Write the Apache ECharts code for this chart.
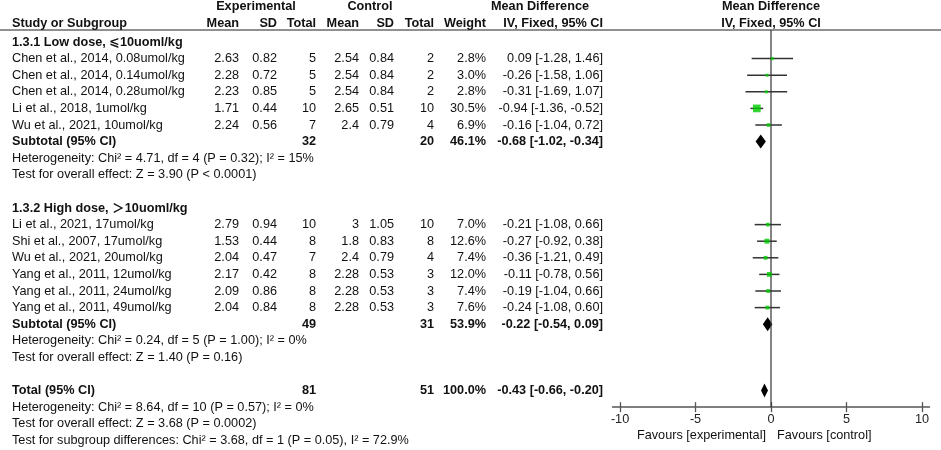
<!DOCTYPE html>
<html>
<head>
<meta charset="utf-8">
<script src="https://cdn.jsdelivr.net/npm/echarts@6/dist/echarts.min.js"></script>
<style>
  html, body { margin: 0; padding: 0; background: #fff; }
  #chart { width: 941px; height: 450px; }
</style>
</head>
<body>
<div id="chart"></div>
<script>
// study rows
var studies = [
    'Chen et al., 2014, 0.08umol/kg',
    'Chen et al., 2014, 0.14umol/kg',
    'Chen et al., 2014, 0.28umol/kg',
    'Li et al., 2018, 1umol/kg',
    'Wu et al., 2021, 10umol/kg',
    'Li et al., 2021, 17umol/kg',
    'Shi et al., 2007, 17umol/kg',
    'Wu et al., 2021, 20umol/kg',
    'Yang et al., 2011, 12umol/kg',
    'Yang et al., 2011, 24umol/kg',
    'Yang et al., 2011, 49umol/kg'
];
var studyLine = [3, 4, 5, 6, 7, 13, 14, 15, 16, 17, 18];
var expMean = [2.63, 2.28, 2.23, 1.71, 2.24, 2.79, 1.53, 2.04, 2.17, 2.09, 2.04];
var expSD = [0.82, 0.72, 0.85, 0.44, 0.56, 0.94, 0.44, 0.47, 0.42, 0.86, 0.84];
var expN = [5, 5, 5, 10, 7, 10, 8, 7, 8, 8, 8];
var ctlMean = [2.54, 2.54, 2.54, 2.65, 2.4, 3, 1.8, 2.4, 2.28, 2.28, 2.28];
var ctlSD = [0.84, 0.84, 0.84, 0.51, 0.79, 1.05, 0.83, 0.79, 0.53, 0.53, 0.53];
var ctlN = [2, 2, 2, 10, 4, 10, 8, 4, 3, 3, 3];
var weight = [2.8, 3.0, 2.8, 30.5, 6.9, 7.0, 12.6, 7.4, 12.0, 7.4, 7.6];
var md = [0.09, -0.26, -0.31, -0.94, -0.16, -0.21, -0.27, -0.36, -0.11, -0.19, -0.24];
var ciLo = [-1.28, -1.58, -1.69, -1.36, -1.04, -1.08, -0.92, -1.21, -0.78, -1.04, -1.08];
var ciHi = [1.46, 1.06, 1.07, -0.52, 0.72, 0.66, 0.38, 0.49, 0.56, 0.66, 0.60];

// pooled rows: subtotal 1, subtotal 2, total
var poolLabel = ['Subtotal (95% CI)', 'Subtotal (95% CI)', 'Total (95% CI)'];
var poolLine = [8, 19, 23];
var poolExpN = [32, 49, 81];
var poolCtlN = [20, 31, 51];
var poolWeight = [46.1, 53.9, 100.0];
var poolMd = [-0.68, -0.22, -0.43];
var poolLo = [-1.02, -0.54, -0.66];
var poolHi = [-0.34, 0.09, -0.20];

var headings = ['1.3.1 Low dose, ⩽10uoml/kg', '1.3.2 High dose, ＞10uoml/kg'];
var headingLine = [2, 12];
var notes = [
    'Heterogeneity: Chi² = 4.71, df = 4 (P = 0.32); I² = 15%',
    'Test for overall effect: Z = 3.90 (P < 0.0001)',
    'Heterogeneity: Chi² = 0.24, df = 5 (P = 1.00); I² = 0%',
    'Test for overall effect: Z = 1.40 (P = 0.16)',
    'Heterogeneity: Chi² = 8.64, df = 10 (P = 0.57); I² = 0%',
    'Test for overall effect: Z = 3.68 (P = 0.0002)',
    'Test for subgroup differences: Chi² = 3.68, df = 1 (P = 0.05), I² = 72.9%'
];
var noteLine = [9, 10, 20, 21, 24, 25, 26];
var xTicks = [-10, -5, 0, 5, 10];

var TOP = 8.8, ROW = 16.6, FS = 12.7;
var FONT = '"Liberation Sans", Arial, "DejaVu Sans", "Noto Sans CJK SC", sans-serif';
var rowY = function (i) { return TOP + i * ROW; };

var txt = function (s, x, y, align, bold) {
    return {
        type: 'text', x: x, y: y, silent: true,
        style: {
            text: s, fill: '#111', textAlign: align, textVerticalAlign: 'middle',
            font: (bold ? 'bold ' : '') + FS + 'px ' + FONT
        }
    };
};
var f2 = function (v) { return v.toFixed(2); };
var ciText = function (m, l, h) { return f2(m) + ' [' + f2(l) + ', ' + f2(h) + ']'; };

// column anchors (right aligned)
var COL = {name: 12, em: 239, esd: 277, en: 316, cm: 359, csd: 394, cn: 434, w: 486, ci: 603};

var g = [];
g.push(txt('Experimental', 256, 6.7, 'center', true));
g.push(txt('Control', 370, 6.7, 'center', true));
g.push(txt('Mean Difference', 540, 6.7, 'center', true));
g.push(txt('Mean Difference', 771, 6.7, 'center', true));
g.push(txt('Study or Subgroup', COL.name, 23.3, 'left', true));
g.push(txt('Mean', COL.em, 23.3, 'right', true));
g.push(txt('SD', COL.esd, 23.3, 'right', true));
g.push(txt('Total', COL.en, 23.3, 'right', true));
g.push(txt('Mean', COL.cm, 23.3, 'right', true));
g.push(txt('SD', COL.csd, 23.3, 'right', true));
g.push(txt('Total', COL.cn, 23.3, 'right', true));
g.push(txt('Weight', COL.w, 23.3, 'right', true));
g.push(txt('IV, Fixed, 95% CI', COL.ci, 23.3, 'right', true));
g.push(txt('IV, Fixed, 95% CI', 771, 23.3, 'center', true));
g.push({
    type: 'line', silent: true,
    shape: {x1: 0, y1: 30, x2: 941, y2: 30},
    style: {stroke: '#222', lineWidth: 1.2}
});

headings.forEach(function (h, i) { g.push(txt(h, COL.name, rowY(headingLine[i]), 'left', true)); });
studies.forEach(function (s, i) {
    var y = rowY(studyLine[i]);
    g.push(txt(s, COL.name, y, 'left'));
    g.push(txt(String(expMean[i]), COL.em, y, 'right'));
    g.push(txt(String(expSD[i]), COL.esd, y, 'right'));
    g.push(txt(String(expN[i]), COL.en, y, 'right'));
    g.push(txt(String(ctlMean[i]), COL.cm, y, 'right'));
    g.push(txt(String(ctlSD[i]), COL.csd, y, 'right'));
    g.push(txt(String(ctlN[i]), COL.cn, y, 'right'));
    g.push(txt(weight[i].toFixed(1) + '%', COL.w, y, 'right'));
    g.push(txt(ciText(md[i], ciLo[i], ciHi[i]), COL.ci, y, 'right'));
});
poolLabel.forEach(function (s, i) {
    var y = rowY(poolLine[i]);
    g.push(txt(s, COL.name, y, 'left', true));
    g.push(txt(String(poolExpN[i]), COL.en, y, 'right', true));
    g.push(txt(String(poolCtlN[i]), COL.cn, y, 'right', true));
    g.push(txt(poolWeight[i].toFixed(1) + '%', COL.w, y, 'right', true));
    g.push(txt(ciText(poolMd[i], poolLo[i], poolHi[i]), COL.ci, y, 'right', true));
});
notes.forEach(function (s, i) { g.push(txt(s, COL.name, rowY(noteLine[i]), 'left')); });
g.push(txt('Favours [experimental]', 766, 435, 'right'));
g.push(txt('Favours [control]', 777, 435, 'left'));

var ciData = studies.map(function (s, i) { return [studyLine[i], ciLo[i], ciHi[i]]; });
var boxData = studies.map(function (s, i) { return [md[i], studyLine[i], weight[i]]; });
var poolData = poolLine.map(function (l, i) { return [l, poolMd[i], poolLo[i], poolHi[i]]; });

option = {
    animation: false,
    graphic: g,
    grid: {left: 612.5, right: 11.5, top: TOP, bottom: 450 - TOP - 24 * ROW},
    xAxis: [
        {
            type: 'value', min: -10.5, max: 10.5, position: 'bottom',
            splitLine: {show: false},
            axisLine: {show: true, onZero: false, lineStyle: {color: '#555', width: 1.5}},
            axisTick: {show: true, inside: false, length: 5, customValues: xTicks, lineStyle: {color: '#555', width: 1.3}},
            axisLabel: {show: true, customValues: xTicks, margin: 6, color: '#222', fontSize: FS, fontFamily: FONT}
        },
        {
            type: 'value', min: -10.5, max: 10.5, position: 'bottom', offset: 0,
            splitLine: {show: false},
            axisLine: {show: false, onZero: false},
            axisTick: {show: true, inside: true, length: 5, customValues: xTicks, lineStyle: {color: '#555', width: 1.3}},
            axisLabel: {show: false}
        }
    ],
    yAxis: {type: 'value', min: 0, max: 24, inverse: true, show: false},
    series: [
        {
            // line of no effect
            type: 'line', silent: true, symbol: 'none',
            lineStyle: {color: '#333', width: 1.2},
            data: [[0, 1.28], [0, 24]]
        },
        {
            type: 'custom', silent: true,
            encode: {x: [1, 2], y: 0},
            renderItem: function (params, api) {
                var a = api.coord([api.value(1), api.value(0)]);
                var b = api.coord([api.value(2), api.value(0)]);
                return {
                    type: 'line',
                    shape: {x1: a[0], y1: a[1], x2: b[0], y2: b[1]},
                    style: {stroke: '#333', lineWidth: 1.5}
                };
            },
            data: ciData
        },
        {
            type: 'scatter', silent: true, symbol: 'rect', z: 5,
            symbolSize: function (v) { return Math.max(3, 7.7 * Math.sqrt(v[2] / 30.5)); },
            itemStyle: {color: '#00cc00'},
            data: boxData
        },
        {
            type: 'custom', silent: true,
            encode: {x: [1, 2, 3], y: 0},
            renderItem: function (params, api) {
                var c = api.coord([api.value(1), api.value(0)]);
                var l = api.coord([api.value(2), api.value(0)]);
                var r = api.coord([api.value(3), api.value(0)]);
                return {
                    type: 'polygon',
                    shape: {points: [[l[0], l[1]], [c[0], c[1] - 7], [r[0], r[1]], [c[0], c[1] + 7]]},
                    style: {fill: '#000'}
                };
            },
            data: poolData
        }
    ]
};

var myChart = echarts.init(document.getElementById('chart'));
myChart.setOption(option);
</script>
</body>
</html>
